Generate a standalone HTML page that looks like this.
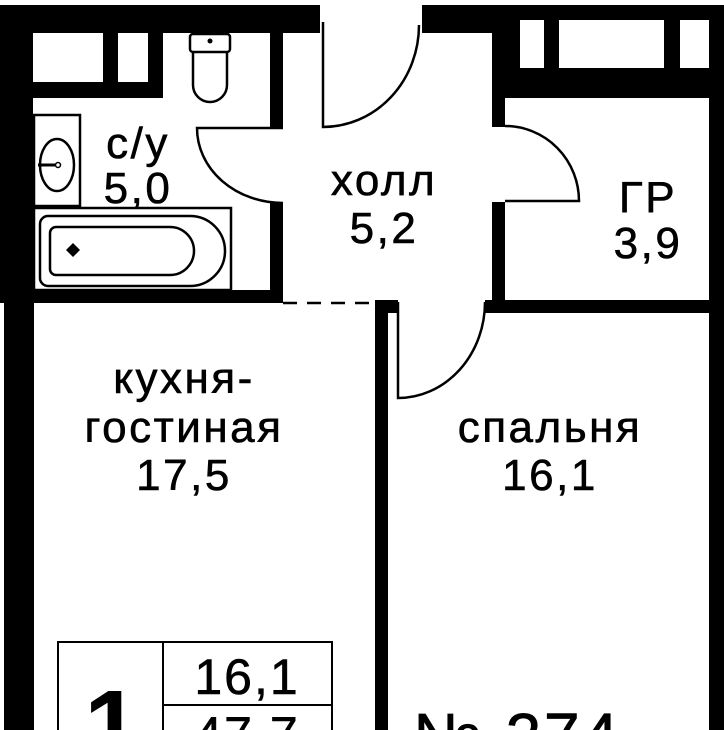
<!DOCTYPE html>
<html><head><meta charset="utf-8"><style>
html,body{margin:0;padding:0;background:#fff;width:724px;height:730px;overflow:hidden;}
svg{display:block;}
text{font-family:"Liberation Sans",sans-serif;fill:#000;}
.r{font-size:44px;letter-spacing:2.5px;text-anchor:middle;stroke:#000;stroke-width:0.6px;}
</style></head><body>
<svg width="724" height="730" viewBox="0 0 724 730" xmlns="http://www.w3.org/2000/svg" overflow="hidden">
<defs><clipPath id="c"><rect x="0" y="0" width="724" height="730"/></clipPath></defs>
<rect width="724" height="730" fill="#fff"/>
<g fill="#000">
<rect x="0" y="5" width="320" height="28"/>
<rect x="0" y="33" width="33" height="270"/>
<rect x="4" y="303" width="30" height="427"/>
<rect x="33" y="33" width="130" height="65"/>
<rect x="270" y="33" width="13" height="94"/>
<rect x="270" y="203" width="13" height="100"/>
<rect x="0" y="290" width="283" height="13"/>
<rect x="422" y="5" width="302" height="15"/>
<rect x="422" y="20" width="83" height="13"/>
<rect x="492" y="20" width="13" height="107"/>
<rect x="492" y="202" width="13" height="111"/>
<rect x="505" y="20" width="15" height="50"/>
<rect x="544" y="20" width="15" height="50"/>
<rect x="664" y="20" width="16" height="50"/>
<rect x="709" y="20" width="15" height="710"/>
<rect x="492" y="68" width="232" height="30"/>
<rect x="485" y="300" width="239" height="13"/>
<rect x="375" y="300" width="13" height="430"/>
<rect x="388" y="300" width="10" height="13"/>
</g>
<rect x="33" y="33" width="70" height="49" fill="#fff"/>
<rect x="118" y="33" width="30" height="49" fill="#fff"/>
<rect x="520" y="20" width="24" height="48" fill="#fff"/>
<rect x="559" y="20" width="105" height="48" fill="#fff"/>
<rect x="680" y="20" width="29" height="48" fill="#fff"/>
<g fill="none" stroke="#000" stroke-width="2.5">
<path d="M283 128 H197 A86 75 0 0 0 283 203"/>
<path d="M323 22 V127 A96 102 0 0 0 419 25"/>
<path d="M505 126 A74 75 0 0 1 579 201 H505"/>
<path d="M398 302 V398 A87 96 0 0 0 485 302"/>
<path d="M283 303 H375" stroke-dasharray="14 10"/>
<rect x="190" y="34" width="40" height="18" rx="3"/>
<path d="M193 52 V85 A17 17 0 0 0 227 85 V52"/>
<rect x="34" y="115" width="46" height="91"/>
<ellipse cx="57" cy="165" rx="17" ry="26"/>
<rect x="34" y="208" width="197" height="82"/>
<path d="M48 216 H190 A35 35 0 0 1 190 286 H48 A8 8 0 0 1 40 278 V224 A8 8 0 0 1 48 216 Z"/>
<path d="M56 227 H170 A24 24 0 0 1 170 275 H56 A6 6 0 0 1 50 269 V233 A6 6 0 0 1 56 227 Z"/>
<path d="M58 730 V642 H332 V730 M163 642 V730 M163 705 H332" stroke-width="2"/>
</g>
<circle cx="210" cy="41" r="2.5"/>
<path d="M38 165 H57" stroke="#000" stroke-width="3"/>
<circle cx="58" cy="165" r="2.5" fill="#fff" stroke="#000" stroke-width="1.5"/>
<path d="M73 243 l7 7 l-7 7 l-7 -7 z" fill="#000"/>
<text class="r" x="138" y="158">с/у</text>
<text class="r" x="138" y="203">5,0</text>
<text class="r" x="384" y="195">холл</text>
<text class="r" x="384" y="243">5,2</text>
<text class="r" x="648" y="212">ГР</text>
<text class="r" x="648" y="258">3,9</text>
<text class="r" x="184" y="393">кухня-</text>
<text class="r" x="184" y="442">гостиная</text>
<text class="r" x="184" y="490">17,5</text>
<text class="r" x="550" y="442">спальня</text>
<text class="r" x="550" y="490">16,1</text>
<text x="247" y="694" style="font-size:50px;text-anchor:middle;letter-spacing:2px;stroke:#000;stroke-width:0.6px">16,1</text>
<g clip-path="url(#c)">
<text x="247" y="752" style="font-size:50px;text-anchor:middle;letter-spacing:2px;stroke:#000;stroke-width:0.6px">47,7</text>
<text x="112" y="760" style="font-size:100px;font-weight:bold;text-anchor:middle">1</text>
<text x="413" y="758" style="font-size:64px;letter-spacing:3px;stroke:#000;stroke-width:0.8px">№ 274</text>
</g>
</svg>
</body></html>
